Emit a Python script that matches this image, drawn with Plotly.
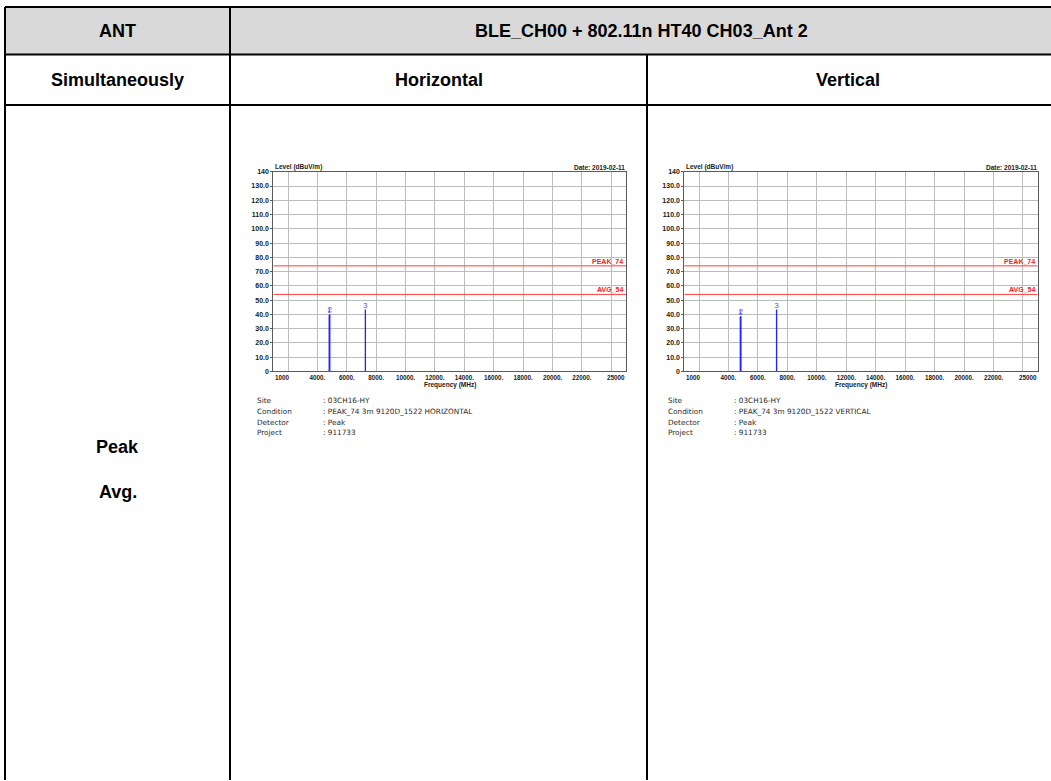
import plotly.graph_objects as go

W, H = 1051, 781

# ---------------- data ----------------
freq_grid = [2000, 4000, 6000, 8000, 10000, 12000, 14000, 16000, 18000, 20000, 22000, 24000]
freq_labels = ["", "4000.", "6000.", "8000.", "10000.", "12000.", "14000.", "16000.",
               "18000.", "20000.", "22000.", ""]
freq_start, freq_end = 1000, 25000
freq_start_label, freq_end_label = "1000", "25000"
level_ticks = [0, 10, 20, 30, 40, 50, 60, 70, 80, 90, 100, 110, 120, 130, 140]
level_labels = ["0", "10.0", "20.0", "30.0", "40.0", "50.0", "60.0", "70.0", "80.0",
                "90.0", "100.0", "110.0", "120.0", "130.0", "140"]

marker_ids = ["1", "2", "3"]
h_freqs = [4804, 4844, 7266]
h_levels = [39.6, 40.1, 43.4]
v_freqs = [4804, 4844, 7266]
v_levels = [38.4, 38.9, 43.4]

limit_names = ["PEAK_74", "AVG_54"]
limit_values = [74, 54]

info_keys = ["Site", "Condition", "Detector", "Project"]
h_info = [": 03CH16-HY", ": PEAK_74 3m 9120D_1522 HORIZONTAL", ": Peak", ": 911733"]
v_info = [": 03CH16-HY", ": PEAK_74 3m 9120D_1522 VERTICAL", ": Peak", ": 911733"]

chart_title = "Level (dBuV/m)"
chart_date = "Date: 2019-02-11"
x_title = "Frequency (MHz)"

hdr_ant = "ANT"
hdr_mode = "BLE_CH00 + 802.11n HT40 CH03_Ant 2"
hdr_sim = "Simultaneously"
hdr_cols = ["Horizontal", "Vertical"]
row_labels = ["Peak", "Avg."]

# ---------------- helpers ----------------
def px(x):
    return x / W

def py(y):
    return 1 - y / H

TABLE_FONT = dict(family="Liberation Sans, Arial", size=18, color="#000000", weight="bold")
TICK_FONT_Y = dict(family="Liberation Sans, Arial", size=7, color="#1a1a1a", weight="bold")
TICK_FONT_X = dict(family="Liberation Sans, Arial", size=6.3, color="#1a1a1a", weight="bold")
SMALL_BOLD = dict(family="Liberation Sans, Arial", size=6.5, color="#1a1a1a", weight="bold")
INFO_FONT = dict(family="DejaVu Sans", size=7.3, color="#2a2a2a")

fig = go.Figure()
annotations = []
shapes = []

# ---------------- table ----------------
L, C1, C2, R = 5, 230, 647, 1053
T, R1, R2, B = 3, 51, 102, 783
shapes.append(dict(type="rect", xref="paper", yref="paper", x0=px(L), x1=px(R), y0=py(R1), y1=py(T),
                   fillcolor="#d9d9d9", line=dict(width=0), layer="below"))
for (x0, y0, x1, y1) in [(L, T, R, T), (L, R1, R, R1), (L, R2, R, R2),
                         (L, T, L, B), (C1, T, C1, B), (C2, R1, C2, B)]:
    shapes.append(dict(type="line", xref="paper", yref="paper", x0=px(x0), y0=py(y0), x1=px(x1), y1=py(y1),
                       line=dict(color="#000000", width=2)))

def table_text(text, x, y):
    annotations.append(dict(text=text, x=px(x), y=py(y), xref="paper", yref="paper",
                            xanchor="center", yanchor="middle", showarrow=False, font=TABLE_FONT))

table_text(hdr_ant, (L + C1) / 2, 27)
table_text(hdr_mode, (C1 + R) / 2, 27)
table_text(hdr_sim, (L + C1) / 2, 77)
table_text(hdr_cols[0], (C1 + C2) / 2, 77)
table_text(hdr_cols[1], (C2 + R) / 2 - 2, 77)
table_text(row_labels[0], (L + C1) / 2, 447)
table_text(row_labels[1], (L + C1) / 2, 492)

# ---------------- charts ----------------
PLOT_TOP, PLOT_BOT = 169.3, 370.7

def add_chart(idx, freqs, levels, info, left, right):
    xa = "x" if idx == 1 else "x2"
    ya = "y" if idx == 1 else "y2"
    # limit lines
    for name, val in zip(limit_names, limit_values):
        fig.add_trace(go.Scatter(x=[freq_start, freq_end], y=[val, val], mode="lines",
                                 line=dict(color="#ff3c3c", width=1), xaxis=xa, yaxis=ya,
                                 hoverinfo="skip", showlegend=False))
        annotations.append(dict(text=name, x=freq_end, y=val, xref=xa, yref=ya, xanchor="right",
                                yanchor="bottom", showarrow=False, xshift=-1, yshift=-1,
                                font=dict(family="Liberation Sans, Arial", size=7, color="#ff2020",
                                          weight="bold")))
    # spikes
    for f, v in zip(freqs, levels):
        fig.add_trace(go.Scatter(x=[f, f], y=[0, v], mode="lines",
                                 line=dict(color="#2222ff", width=1.3), xaxis=xa, yaxis=ya,
                                 hoverinfo="skip", showlegend=False))
    fig.add_trace(go.Scatter(x=freqs, y=levels, mode="text", text=marker_ids,
                             textposition="top center",
                             textfont=dict(family="Liberation Sans, Arial", size=7.5, color="#4a4aff"),
                             xaxis=xa, yaxis=ya, hoverinfo="skip", showlegend=False))
    # end labels of frequency axis
    annotations.append(dict(text=freq_start_label, x=freq_start, y=0, xref=xa, yref=ya, xanchor="left",
                            yanchor="top", showarrow=False, yshift=-1, xshift=0, font=TICK_FONT_X))
    annotations.append(dict(text=freq_end_label, x=freq_end, y=0, xref=xa, yref=ya, xanchor="right",
                            yanchor="top", showarrow=False, yshift=-1, xshift=1, font=TICK_FONT_X))
    # titles
    annotations.append(dict(text=chart_title, x=px(left), y=py(164.5), xref="paper", yref="paper",
                            xanchor="left", yanchor="middle", showarrow=False, font=SMALL_BOLD))
    annotations.append(dict(text=chart_date, x=px(right + 1), y=py(164.5), xref="paper", yref="paper",
                            xanchor="right", yanchor="middle", showarrow=False, font=SMALL_BOLD))
    annotations.append(dict(text=x_title, x=px((left + right) / 2), y=py(384.5), xref="paper", yref="paper",
                            xanchor="center", yanchor="middle", showarrow=False, font=SMALL_BOLD))
    # info block
    for i, (k, val) in enumerate(zip(info_keys, info)):
        yy = 400.3 + i * 10.8
        annotations.append(dict(text=k, x=px(left - 18.5), y=py(yy), xref="paper", yref="paper",
                                xanchor="left", yanchor="middle", showarrow=False, font=INFO_FONT))
        annotations.append(dict(text=val, x=px(left + 47.5), y=py(yy), xref="paper", yref="paper",
                                xanchor="left", yanchor="middle", showarrow=False, font=INFO_FONT))

    xaxis = dict(domain=[px(left), px(right)], range=[freq_start, freq_end], anchor=ya,
                 tickmode="array", tickvals=freq_grid, ticktext=freq_labels, tickfont=TICK_FONT_X,
                 showgrid=True, gridcolor="#bcbcbc", gridwidth=1, ticks="", zeroline=False,
                 showline=True, linecolor="#5a5a5a", linewidth=1, mirror=True, fixedrange=True)
    yaxis = dict(domain=[py(PLOT_BOT), py(PLOT_TOP)], range=[0, 140], anchor=xa,
                 tickmode="array", tickvals=level_ticks, ticktext=level_labels, tickfont=TICK_FONT_Y,
                 showgrid=True, gridcolor="#bcbcbc", gridwidth=1, ticks="outside", ticklen=2,
                 tickcolor="#5a5a5a", zeroline=False, showline=True, linecolor="#5a5a5a",
                 linewidth=1, mirror=True, fixedrange=True)
    return xaxis, yaxis

xa1, ya1 = add_chart(1, h_freqs, h_levels, h_info, 273.3, 626.0)
xa2, ya2 = add_chart(2, v_freqs, v_levels, v_info, 684.3, 1037.7)

fig.update_layout(
    width=W, height=H, autosize=False,
    margin=dict(l=0, r=0, t=0, b=0, pad=0),
    paper_bgcolor="#ffffff", plot_bgcolor="#ffffff",
    showlegend=False,
    xaxis=xa1, yaxis=ya1, xaxis2=xa2, yaxis2=ya2,
    shapes=shapes, annotations=annotations,
)

fig.write_html("out.html")
